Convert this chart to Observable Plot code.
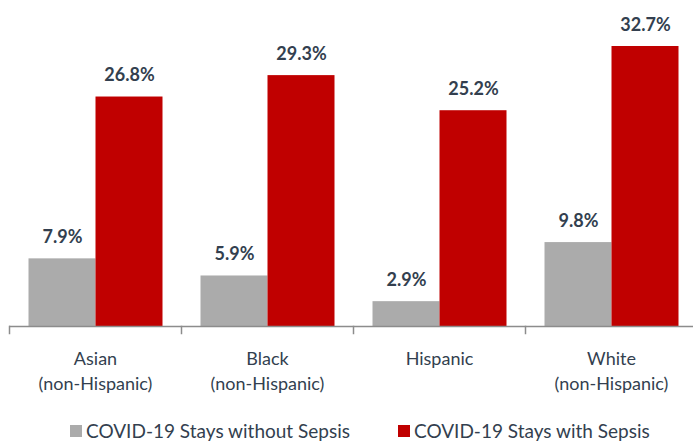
<!DOCTYPE html>
<html>
<head>
<meta charset="utf-8">
<script src="https://cdn.jsdelivr.net/npm/d3@7"></script>
<script src="https://cdn.jsdelivr.net/npm/@observablehq/plot@0.6"></script>
<style>
  html, body { margin: 0; padding: 0; background: #fff; overflow: hidden; }
  #chart svg { display: block; }
  .legend { display: flex; align-items: center; margin-top: 21px; margin-left: 70px;
            font-family: Lato, "Open Sans", sans-serif; font-size: 19px; color: #333f4f; line-height: 20px; }
  .legend .item { display: flex; align-items: center; white-space: nowrap; }
  .legend .sw { width: 12px; height: 12px; margin-right: 4px; }
</style>
</head>
<body>
<div id="chart"></div>
<div class="legend" id="legend"></div>
<script>
const groups = ["Asian", "Black", "Hispanic", "White"];
const groupLabels = ["Asian\n(non-Hispanic)", "Black\n(non-Hispanic)", "Hispanic", "White\n(non-Hispanic)"];
const series = ["COVID-19 Stays without Sepsis", "COVID-19 Stays with Sepsis"];
const withoutSepsis = [7.9, 5.9, 2.9, 9.8];
const withSepsis = [26.8, 29.3, 25.2, 32.7];
const colors = ["#ababab", "#c00000"];

const data = groups.flatMap((g, i) => [
  {group: g, series: series[0], value: withoutSepsis[i]},
  {group: g, series: series[1], value: withSepsis[i]}
]);

const textColor = "#333f4f";
const axisColor = "#8c8c8c";

const chart = Plot.plot({
  width: 693,
  height: 400,
  marginTop: 46,
  marginLeft: 7.5,
  marginRight: -5.5,
  marginBottom: 67,
  style: {fontFamily: "Lato, 'Open Sans', sans-serif"},
  fx: {domain: groups, padding: 0, axis: null},
  x: {domain: series, paddingInner: 0, paddingOuter: 0.272, axis: null},
  y: {domain: [0, d3.max(withSepsis)], insetBottom: 7, axis: null},
  color: {domain: series, range: colors},
  marks: [
    Plot.barY(data, {fx: "group", x: "series", y: "value", fill: "series"}),
    Plot.text(data, {
      fx: "group", x: "series", y: "value",
      text: d => d.value.toFixed(1) + "%",
      lineAnchor: "bottom", dy: -16,
      fontWeight: 700, fontSize: 18, fill: textColor
    }),
    Plot.ruleY([0], {stroke: axisColor, strokeWidth: 1.5}),
    Plot.frame({anchor: "left", insetTop: 280, stroke: axisColor, strokeWidth: 1.5}),
    Plot.text(groups, {
      fx: d => d,
      text: (d, i) => groupLabels[i],
      frameAnchor: "bottom", lineAnchor: "top", dy: 14, lineHeight: 1.39,
      fontSize: 18, fill: textColor
    })
  ]
});
document.getElementById("chart").append(chart);

const legend = document.getElementById("legend");
series.forEach((s, i) => {
  const item = document.createElement("div");
  item.className = "item";
  if (i > 0) item.style.marginLeft = "48px";
  const sw = document.createElement("span");
  sw.className = "sw";
  sw.style.background = colors[i];
  const label = document.createElement("span");
  label.textContent = s;
  item.append(sw, label);
  legend.append(item);
});
</script>
</body>
</html>
